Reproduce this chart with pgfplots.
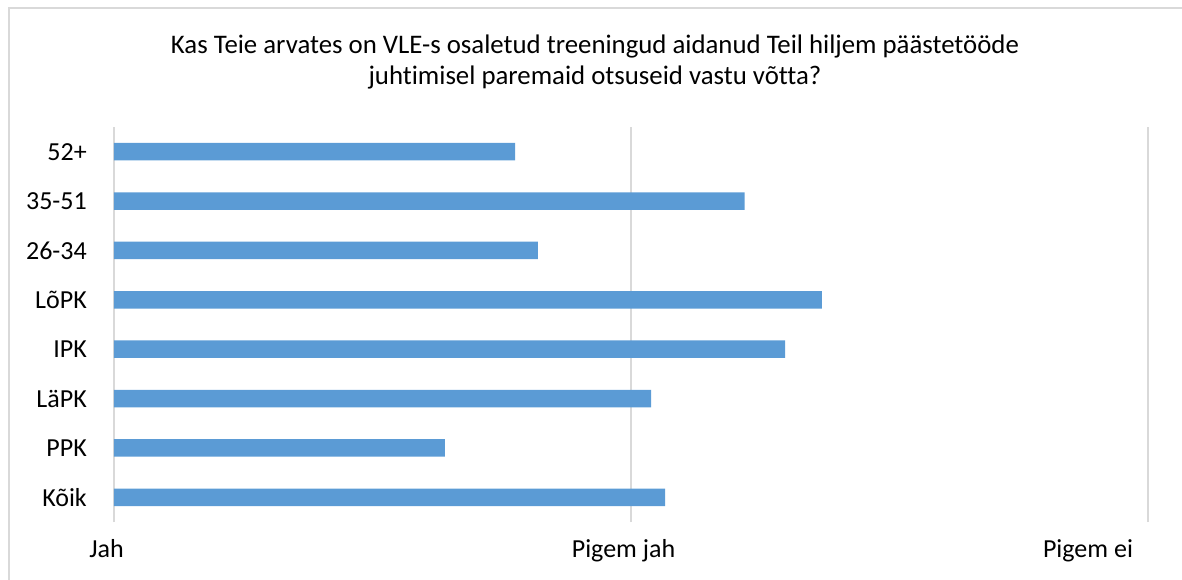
\documentclass[border=0pt]{standalone}
\usepackage{fontspec}
\setmainfont{Carlito}[Ligatures=NoCommon]
\usepackage{pgfplots}
\pgfplotsset{compat=1.18}
\definecolor{barblue}{HTML}{5B9BD5}
\definecolor{gridgray}{HTML}{D9D9D9}
\begin{document}
\begin{tikzpicture}[x=1pt,y=1pt]
\useasboundingbox (-114,-57) rectangle (1068,522);
\draw[gridgray, line width=1.2pt] (-105,-70) -- (-105,514) -- (1080,514);
\node[anchor=base, inner sep=0pt, font=\fontsize{26.8}{32}\selectfont] at (481,468.7) {Kas Teie arvates on VLE-s osaletud treeningud aidanud Teil hiljem päästetööde};
\node[anchor=base, inner sep=0pt, font=\fontsize{26.8}{32}\selectfont] at (481,437) {juhtimisel paremaid otsuseid vastu võtta?};
\begin{axis}[
  at={(0,0)}, anchor=south west,
  scale only axis,
  width=1034pt, height=395pt,
  xmin=1, xmax=3, ymin=-0.5, ymax=7.5,
  xbar, bar width=17.5pt,
  axis line style={draw=none},
  major tick length=0pt,
  xmajorgrids, ymajorgrids=false,
  major grid style={draw=gridgray, line width=1.3pt},
  xtick={1,2}, xticklabels={Jah, Pigem jah},
  extra x ticks={3}, extra x tick labels={Pigem ei},
  extra x tick style={grid=major, xticklabel style={xshift=-52.5pt}},
  xticklabel style={anchor=base, inner sep=0pt, yshift=-35pt, xshift=-7.5pt, font=\fontsize{26}{31}\selectfont},
  ytick={0,...,7},
  yticklabels={Kõik,PPK,LäPK,IPK,LõPK,26-34,35-51,52+},
  yticklabel style={anchor=east, inner sep=0pt, xshift=-27pt, font=\fontsize{26}{31}\selectfont},
  clip=true,
]
\addplot[fill=barblue, draw=none] coordinates {
  (2.066,0) (1.640,1) (2.039,2) (2.298,3) (2.369,4) (1.820,5) (2.220,6) (1.776,7)
};
\end{axis}
\end{tikzpicture}
\end{document}
